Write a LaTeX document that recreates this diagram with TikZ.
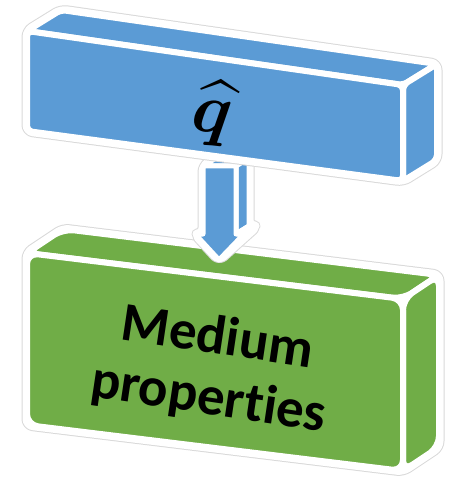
\documentclass[tikz,border=0pt]{standalone}
\usepackage{fontspec}
\setsansfont[Ligatures={NoCommon,NoContextual}]{Carlito}
\definecolor{qblue}{HTML}{5B9BD5}
\definecolor{mgreen}{HTML}{70AD47}

\begin{document}
\begin{tikzpicture}[x=1pt,y=-1pt,
  halo/.style={draw=gray!30,line width=11pt,line join=round,rounded corners=6pt},
  haloin/.style={draw=white,fill=white,line width=9pt,line join=round,rounded corners=6pt},
  bface/.style={fill=qblue,draw=white,line width=6pt,line join=round,rounded corners=5pt},
  gface/.style={fill=mgreen,draw=white,line width=6pt,line join=round,rounded corners=11pt},
  aface/.style={fill=qblue,draw=white,line width=5pt,line join=round},
  lbl/.style={inner sep=0pt,align=center}]
\useasboundingbox (0,0) rectangle (452,478);
% green box corners (front, then back)
\coordinate (gTL)  at (27,253);  \coordinate (gTR)  at (403,299);
\coordinate (gBR)  at (403,471); \coordinate (gBL)  at (27,425);
\coordinate (gTLb) at (63,229);  \coordinate (gTRb) at (439,275);
\coordinate (gBRb) at (439,447);
% blue box corners (front, then back)
\coordinate (bTL)  at (27,31);   \coordinate (bTR)  at (403,85);
\coordinate (bBR)  at (403,181); \coordinate (bBL)  at (27,131);
\coordinate (bTLb) at (61,10);   \coordinate (bTRb) at (437,64);
\coordinate (bBRb) at (437,160);
% block arrow corners
\coordinate (aSL)  at (203,166); \coordinate (aSR)  at (236,166);
\coordinate (aHR)  at (236,234); \coordinate (aWR)  at (244,234);
\coordinate (aTip) at (219,260); \coordinate (aWL)  at (195,234);
\coordinate (aHL)  at (203,234);
\coordinate (aSLb) at (216,158); \coordinate (aSRb) at (249,158);
\coordinate (aHRb) at (249,226); \coordinate (aWRb) at (257,226);
% green box
\draw[halo]   (gTL)--(gTLb)--(gTRb)--(gBRb)--(gBR)--(gBL)--cycle;
\draw[haloin] (gTL)--(gTLb)--(gTRb)--(gBRb)--(gBR)--(gBL)--cycle;
\draw[gface]  (gTL)--(gTLb)--(gTRb)--(gTR)--cycle;
\draw[gface]  (gTR)--(gTRb)--(gBRb)--(gBR)--cycle;
\draw[gface]  (gTL)--(gTR)--(gBR)--(gBL)--cycle;
\node[lbl,rotate=-8.5,font={\sffamily\bfseries\fontsize{55}{61}\selectfont}] (medium) at (213,369) {Medium\\properties};
% block arrow
\draw[halo]   (aSL)--(aSLb)--(aSRb)--(aHRb)--(aWRb)--(aTip)--(aWL)--(aHL)--cycle;
\draw[haloin] (aSL)--(aSLb)--(aSRb)--(aHRb)--(aWRb)--(aTip)--(aWL)--(aHL)--cycle;
\draw[aface]  (aSL)--(aSLb)--(aSRb)--(aSR)--cycle;
\draw[aface]  (aSR)--(aSRb)--(aHRb)--(aHR)--cycle;
\draw[aface]  (aHR)--(aWR)--(aWRb)--(aHRb)--cycle;
\draw[aface]  (aSL)--(aSR)--(aHR)--(aWR)--(aTip)--(aWL)--(aHL)--cycle;
% blue box
\draw[halo]   (bTL)--(bTLb)--(bTRb)--(bBRb)--(bBR)--(bBL)--cycle;
\draw[haloin] (bTL)--(bTLb)--(bTRb)--(bBRb)--(bBR)--(bBL)--cycle;
\draw[bface]  (bTL)--(bTLb)--(bTRb)--(bTR)--cycle;
\draw[bface]  (bTR)--(bTRb)--(bBRb)--(bBR)--cycle;
\draw[bface]  (bTL)--(bTR)--(bBR)--(bBL)--cycle;
\node[lbl,rotate=-5] (qhat) at (212,113) {\scalebox{7}{\boldmath$\widehat{q}$}};
\end{tikzpicture}
\end{document}
